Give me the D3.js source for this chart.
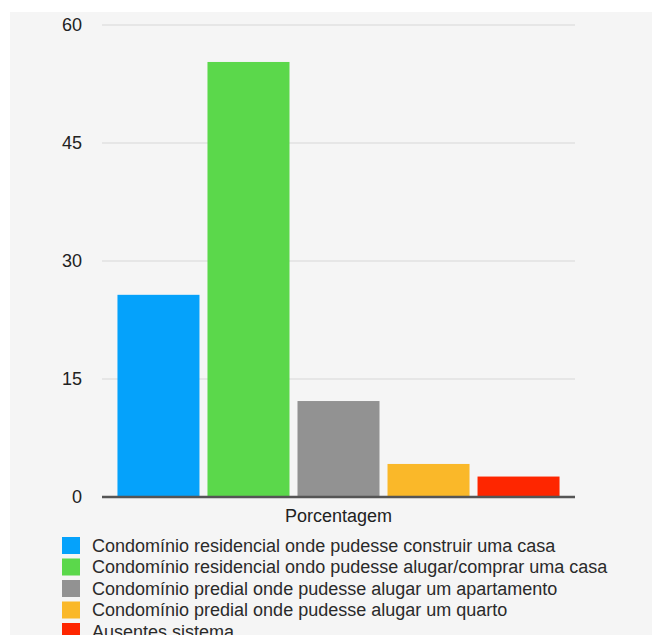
<!DOCTYPE html>
<html>
<head>
<meta charset="utf-8">
<script src="https://cdn.jsdelivr.net/npm/d3@7/dist/d3.min.js"></script>
<style>
  html, body { margin: 0; padding: 0; background: #ffffff; }
  svg { display: block; }
  text { font-family: "Liberation Sans", Arial, Helvetica, sans-serif; }
</style>
</head>
<body>
<svg id="chart" width="652" height="635"></svg>
<script>
// Survey answers: preferred type of housing (percent of respondents)
const groups = ["Porcentagem"];
const categories = [
  "Condomínio residencial onde pudesse construir uma casa",
  "Condomínio residencial ondo pudesse alugar/comprar uma casa",
  "Condomínio predial onde pudesse alugar um apartamento",
  "Condomínio predial onde pudesse alugar um quarto",
  "Ausentes sistema"
];
const values = [25.7, 55.3, 12.2, 4.2, 2.6];
const colors = ["#05a2fb", "#5bd84b", "#929292", "#fab829", "#fe2600"];
const yTicks = [0, 15, 30, 45, 60];

const svg = d3.select("#chart");

// panel background
svg.append("rect")
  .attr("x", 10).attr("y", 12)
  .attr("width", 642).attr("height", 623)
  .attr("fill", "#f5f5f5");

const plot = { left: 102, right: 575, top: 25, bottom: 497 };

const y = d3.scaleLinear().domain([0, 60]).range([plot.bottom, plot.top]);

const x0 = d3.scaleBand().domain(groups)
  .range([plot.left, plot.right])
  .paddingInner(0).paddingOuter(0.035);

const x1 = d3.scaleBand().domain(categories)
  .range([0, x0.bandwidth()])
  .paddingInner(0.089).paddingOuter(0);

const color = d3.scaleOrdinal().domain(categories).range(colors);

// horizontal gridlines
svg.append("g")
  .selectAll("line")
  .data(yTicks.filter(d => d > 0))
  .join("line")
  .attr("x1", plot.left).attr("x2", plot.right)
  .attr("y1", d => y(d)).attr("y2", d => y(d))
  .attr("stroke", "#e1e1e1")
  .attr("stroke-width", 1.5);

// y axis labels
const yAxis = d3.axisLeft(y).tickValues(yTicks).tickSize(0).tickPadding(20);
const gy = svg.append("g")
  .attr("transform", `translate(${plot.left},0)`)
  .call(yAxis);
gy.select(".domain").remove();
gy.selectAll("text")
  .attr("font-size", 18)
  .attr("font-family", "'Liberation Sans', Arial, sans-serif")
  .attr("fill", "#222");

// bars
const group = svg.append("g")
  .selectAll("g")
  .data(groups)
  .join("g")
  .attr("transform", d => `translate(${x0(d)},0)`);

group.selectAll("rect")
  .data(categories.map((c, i) => ({ key: c, value: values[i] })))
  .join("rect")
  .attr("x", d => x1(d.key))
  .attr("y", d => y(d.value))
  .attr("width", x1.bandwidth())
  .attr("height", d => y(0) - y(d.value))
  .attr("fill", d => color(d.key));

// baseline axis with group label
const xAxis = d3.axisBottom(x0).tickSize(0).tickPadding(12);
const gx = svg.append("g")
  .attr("transform", `translate(0,${plot.bottom})`)
  .call(xAxis);
gx.select(".domain")
  .attr("stroke", "#555")
  .attr("stroke-width", 2.5)
  .attr("d", `M${plot.left},0H${plot.right}`);
gx.selectAll("text")
  .attr("font-size", 18)
  .attr("font-family", "'Liberation Sans', Arial, sans-serif")
  .attr("fill", "#222");

// legend
const legend = svg.append("g")
  .attr("transform", "translate(62,537)");

const item = legend.selectAll("g")
  .data(categories)
  .join("g")
  .attr("transform", (d, i) => `translate(0,${i * 21.5})`);

item.append("rect")
  .attr("width", 18).attr("height", 17)
  .attr("fill", d => color(d));

item.append("text")
  .attr("x", 30).attr("y", 8.5)
  .attr("dy", "0.35em")
  .attr("font-size", 18)
  .attr("fill", "#2a2a2a")
  .text(d => d);
</script>
</body>
</html>
